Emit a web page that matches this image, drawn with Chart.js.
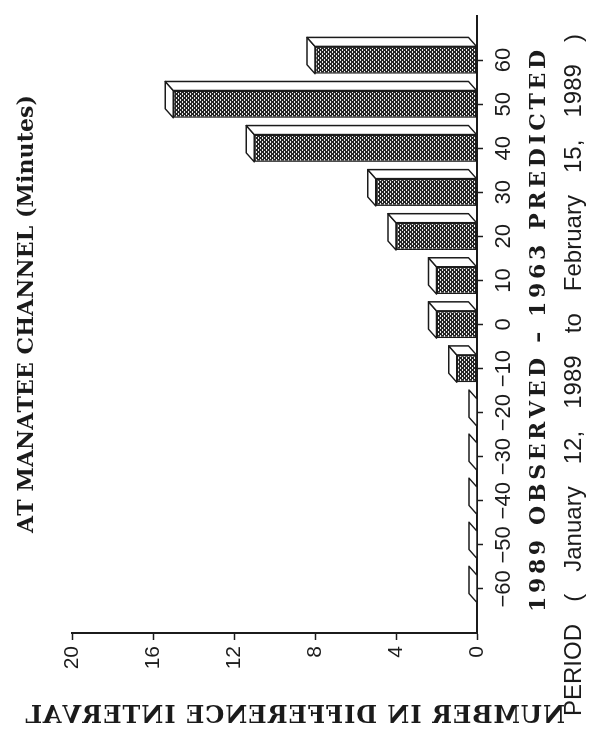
<!DOCTYPE html>
<html>
<head>
<meta charset="utf-8">
<script src="https://cdn.jsdelivr.net/npm/chart.js@4.4.1/dist/chart.umd.min.js"></script>
<style>
  html, body { margin: 0; padding: 0; background: #fff; width: 592px; height: 733px; overflow: hidden; }
  /* the chart is laid out upright, then turned a quarter turn onto the page */
  #wrap { position: absolute; left: 0; top: 0; width: 733px; height: 592px;
          transform-origin: 0 0; transform: translate(0, 733px) rotate(-90deg); }
  canvas { display: block; }
</style>
</head>
<body>
<div id="wrap"><canvas id="c" width="733" height="592"></canvas></div>
<script>
// Difference intervals (minutes) and how many tides fell in each
const differences = [-60, -50, -40, -30, -20, -10, 0, 10, 20, 30, 40, 50, 60];
const counts      = [  0,   0,   0,   0,   0,   1, 2,  2,  4,  5, 11, 15,  8];
const countTicks  = [0, 4, 8, 12, 16, 20];

const titleText  = 'AT MANATEE CHANNEL (Minutes)';
const xTitleText = '1989 OBSERVED \u2013 1963 PREDICTED';
const periodText = 'PERIOD ( January 12, 1989 to February 15, 1989 )';
const yTitleText = 'NUMBER IN DIFFERENCE INTERVAL';

const INK = '#1b1b1b';
const SERIF = '"DejaVu Serif", "Liberation Serif", serif';
const SANS = '"Liberation Sans", Arial, sans-serif';

// fine dotted crosshatch used on the bar fronts
function hatchPattern() {
  const t = document.createElement('canvas');
  t.width = 4; t.height = 4;
  const g = t.getContext('2d');
  g.fillStyle = '#262626';
  g.fillRect(0, 0, 4, 4);
  g.fillStyle = '#f2f2f2';
  g.fillRect(0, 0, 2, 1);
  g.fillRect(2, 2, 2, 1);
  return g.createPattern(t, 'repeat');
}

// spreads a string over a given width, either between letters or between words
function spacedText(ctx, text, cx, baseY, targetW, mode) {
  const parts = mode === 'word' ? text.split(' ') : Array.from(text);
  const widths = parts.map(p => ctx.measureText(p).width);
  const sum = widths.reduce((a, b) => a + b, 0);
  const gap = parts.length > 1 ? (targetW - sum) / (parts.length - 1) : 0;
  let x = cx - targetW / 2;
  ctx.textAlign = 'left';
  ctx.textBaseline = 'alphabetic';
  parts.forEach((p, i) => { ctx.fillText(p, x, baseY); x += widths[i] + gap; });
}

// white top and side faces that give each bar its depth
const depthFaces = {
  id: 'depthFaces',
  afterDatasetsDraw(chart) {
    const ctx = chart.ctx;
    const dx = 9, dy = 8;
    ctx.save();
    ctx.lineWidth = 1.5;
    ctx.strokeStyle = INK;
    ctx.fillStyle = '#fff';
    ctx.lineJoin = 'round';
    chart.getDatasetMeta(0).data.forEach(bar => {
      const { x, y, base, width } = bar.getProps(['x', 'y', 'base', 'width'], true);
      const l = x - width / 2, r = x + width / 2;
      ctx.beginPath();
      ctx.moveTo(l, y); ctx.lineTo(l + dx, y - dy); ctx.lineTo(r + dx, y - dy); ctx.lineTo(r, y);
      ctx.closePath(); ctx.fill(); ctx.stroke();
      if (base - y > 0.5) {
        ctx.beginPath();
        ctx.moveTo(r, y); ctx.lineTo(r + dx, y - dy); ctx.lineTo(r + dx, base - dy); ctx.lineTo(r, base);
        ctx.closePath(); ctx.fill(); ctx.stroke();
      }
    });
    ctx.restore();
  }
};

// headings and captions
const captions = {
  id: 'captions',
  afterDraw(chart) {
    const ctx = chart.ctx;
    ctx.save();
    ctx.fillStyle = INK;

    ctx.font = 'bold 22px ' + SERIF;
    spacedText(ctx, titleText, 419, 33, 438, 'letter');

    ctx.font = 'bold 22px ' + SERIF;
    spacedText(ctx, xTitleText, 402, 545, 562, 'letter');

    ctx.font = '24px ' + SANS;
    spacedText(ctx, periodText, 358, 581, 682, 'word');

    // count-axis caption runs across the foot of the page, mirrored
    const X = 295, Y = 723;
    ctx.setTransform(0, -1, -1, 0, 733 - Y, X);
    ctx.font = 'bold 24px ' + SERIF;
    spacedText(ctx, yTitleText, 0, 0, 540, 'letter');
    ctx.restore();
  }
};

const ctx = document.getElementById('c').getContext('2d');
new Chart(ctx, {
  type: 'bar',
  data: {
    datasets: [{
      data: differences.map((d, i) => ({ x: d, y: counts[i] })),
      backgroundColor: hatchPattern(),
      borderColor: INK,
      borderWidth: 1.5,
      borderSkipped: false,
      categoryPercentage: 0.62,
      barPercentage: 1.0
    }]
  },
  options: {
    responsive: false,
    animation: false,
    events: [],
    layout: { padding: { left: 40, right: 16, top: 72, bottom: 65 } },
    plugins: { legend: { display: false }, tooltip: { enabled: false }, title: { display: false } },
    scales: {
      x: {
        type: 'linear',
        offset: false,
        min: -70, max: 70,
        afterBuildTicks: s => { s.ticks = differences.map(v => ({ value: v })); },
        afterFit: s => { s.height = 50; },
        border: { display: true, color: INK, width: 2 },
        grid: { display: true, offset: false, drawOnChartArea: false, drawTicks: true, tickLength: 6, tickColor: INK, tickWidth: 1.5 },
        ticks: {
          autoSkip: false, maxRotation: 0, minRotation: 0, padding: 8,
          color: INK, font: { family: SANS, size: 22 },
          callback: v => String(v).replace('-', '\u2212')
        }
      },
      y: {
        type: 'linear',
        min: 0, max: 20,
        afterBuildTicks: s => { s.ticks = countTicks.map(v => ({ value: v })); },
        afterFit: s => { s.width = 60; },
        border: { display: true, color: INK, width: 2 },
        grid: { display: true, drawOnChartArea: false, drawTicks: true, tickLength: 7, tickColor: INK, tickWidth: 1.5 },
        ticks: { padding: 6, color: INK, font: { family: SANS, size: 21 } }
      }
    }
  },
  plugins: [depthFaces, captions]
});
</script>
</body>
</html>
